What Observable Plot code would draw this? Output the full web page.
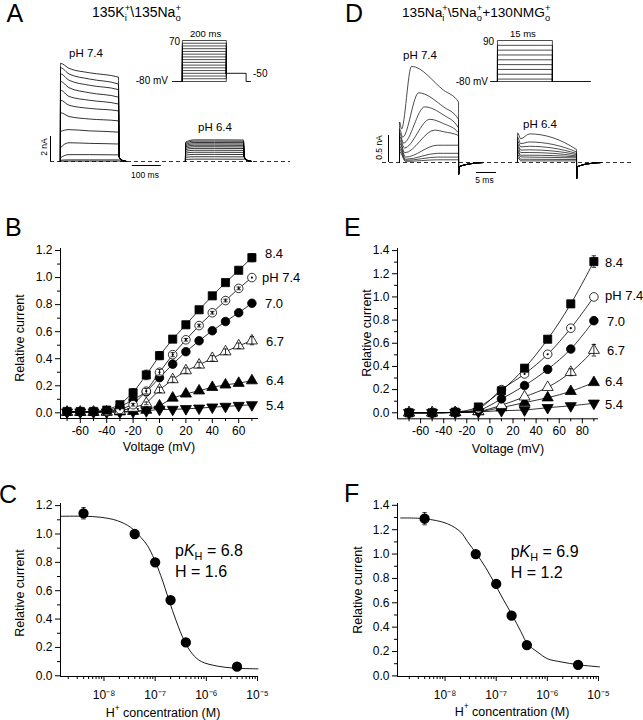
<!DOCTYPE html>
<html><head><meta charset="utf-8">
<script src="https://cdn.jsdelivr.net/npm/d3@7"></script>
<script src="https://cdn.jsdelivr.net/npm/@observablehq/plot@0.6"></script>
<style>
body{margin:0;background:#fff;}
#fig{position:relative;width:643px;height:720px;overflow:hidden;background:#fff;}
</style></head><body><div id="fig"></div><script>
// ================= DATA =================
// Panel A: current traces (nA) sampled at aTimes (ms after step onset)
const aTimes = [0.6, 30, 100, 200];
const aPH74 = [
  [7.85, 7.45, 7.10, 6.75],
  [7.50, 7.00, 6.60, 6.20],
  [7.00, 6.50, 6.10, 5.75],
  [6.40, 5.90, 5.50, 5.15],
  [5.70, 5.20, 4.90, 4.60],
  [4.90, 4.50, 4.25, 4.05],
  [3.90, 3.60, 3.40, 3.25],
  [2.40, 2.55, 2.45, 2.35],
  [1.10, 1.50, 1.45, 1.40],
  [0.30, 0.55, 0.55, 0.53],
  [0.10, 0.13, 0.13, 0.13],
  [0.02, 0.03, 0.03, 0.03]
];
const aPH64 = [
  [1.55, 1.73, 1.73, 1.72],
  [1.47, 1.63, 1.63, 1.62],
  [1.37, 1.52, 1.52, 1.51],
  [1.27, 1.41, 1.41, 1.40],
  [1.17, 1.30, 1.30, 1.29],
  [1.06, 1.18, 1.18, 1.17],
  [0.95, 1.05, 1.05, 1.04],
  [0.81, 0.90, 0.90, 0.89],
  [0.67, 0.74, 0.74, 0.73],
  [0.51, 0.57, 0.57, 0.56],
  [0.34, 0.38, 0.38, 0.37],
  [0.17, 0.19, 0.19, 0.18]
];
const aSweep64Start = 431;          // ms, on the concatenated time axis
const aTailTimes = [203, 212, 228];
const aTailCurrent = [0.35, 0.10, 0];
const aScaleNA = 2, aScaleMS = 100;
// Panel A protocol
const aSteps = [-80,-70,-60,-50,-40,-30,-20,-10,0,10,20,30,40,50,60,70];
const aHold = -80, aTailV = -50;
const aProtoTimes = [-45, 0, 200, 290, 310];

// Panel D: traces (nA)
const dPH74Spike = [0.75, 0.62, 0.55, 0.48, 0.42, 0.36, 0.30, 0.25, 0.20];
const dPH74DipT  = [0.5, 0.8, 1.0, 1.2, 1.3, 1.5, 1.5, 1.5, 1.5];
const dPH74Dip   = [0.62, 0.47, 0.36, 0.27, 0.18, 0.10, 0.06, 0.04, 0.02];
const dPH74PeakT = [3.0, 4.8, 6.3, 7.6, 8.8, 9.5, 9.5, 9.5, 9.5];
const dPH74Peak  = [1.78, 1.29, 1.03, 0.80, 0.60, 0.32, 0.17, 0.10, 0.05];
const dPH74Mid   = [1.34, 1.03, 0.88, 0.72, 0.57, 0.32, 0.17, 0.10, 0.05];
const dPH74End   = [1.12, 0.80, 0.64, 0.55, 0.50, 0.32, 0.17, 0.10, 0.05];
const dMidT = 11, dOffT = 14.75;
const dTailT = [14.78, 14.9, 16, 18, 21];
const dTail74I = [-0.22, -0.08, -0.05, -0.02, 0];
const dSweep64Start = 29.5;
const dPH64Spike = [0.55, 0.47, 0.40, 0.34, 0.29, 0.24, 0.20, 0.15, 0.10];
const dPH64Dip   = [0.44, 0.35, 0.29, 0.23, 0.185, 0.135, 0.104, 0.06, 0.03];
const dPH64Peak  = [0.53, 0.38, 0.30, 0.235, 0.185, 0.135, 0.10, 0.06, 0.03];
const dPH64End   = [0.24, 0.196, 0.167, 0.148, 0.122, 0.104, 0.085, 0.055, 0.03];
const dPH64DipT = 0.8, dPH64PeakT = 3;
const dTail64I = [-0.30, -0.09, -0.05, -0.02, 0];
const dScaleNA = 0.5, dScaleMS = 5;
const dSteps = [-80,-70,-50,-30,-10,10,30,50,70,90];
const dHold = -80;
const dProtoTimes = [-1.9, 0, 15, 25.4];

// Panel B: relative current vs voltage
const bV = [-70,-60,-50,-40,-30,-20,-10,0,10,20,30,40,50,60,70];
const bPH84 = [0.01,0.01,0.01,0.02,0.06,0.148,0.28,0.423,0.545,0.651,0.762,0.865,0.963,1.054,1.147];
const bPH74 = [0.008,0.008,0.008,0.01,0.025,0.06,0.16,0.30,0.43,0.54,0.645,0.74,0.83,0.92,1.0];
const bPH70 = [0.008,0.008,0.008,0.012,0.045,0.095,0.155,0.26,0.36,0.452,0.533,0.607,0.675,0.74,0.81];
const bPH67 = [0.005,0.005,0.005,0.008,0.015,0.035,0.07,0.17,0.246,0.312,0.354,0.403,0.452,0.496,0.533];
const bPH64 = [0.005,0.005,0.005,0.005,0.008,0.012,0.02,0.052,0.11,0.14,0.163,0.189,0.207,0.219,0.238];
const bPH54 = [0.005,0.005,0.005,0.005,0.005,0.008,0.015,0.025,0.025,0.03,0.034,0.042,0.047,0.054,0.059];
const bSEM84 = [0,0,0,0,0.01,0.03,0.035,0.03,0.02,0.015,0.015,0.015,0.015,0.02,0.03];
const bSEM74 = [0,0,0,0,0,0.01,0.02,0.02,0.015,0.01,0.01,0.01,0.01,0.01,0];
const bSEM67 = [0,0,0,0,0,0,0.01,0.02,0.02,0.02,0.02,0.02,0.02,0.02,0.03];
const bXTicks = [-60,-40,-20,0,20,40,60], bXMinor = [-70,-50,-30,-10,10,30,50,70];
const bYTicks = [0,0.2,0.4,0.6,0.8,1.0,1.2], bYMinor = [0.1,0.3,0.5,0.7,0.9,1.1];

// Panel E
const eV = [-70,-50,-30,-10,10,30,50,70,90];
const ePH84 = [0,0,0.005,0.05,0.19,0.385,0.635,0.94,1.305];
const ePH74 = [0,0,0.005,0.035,0.2,0.335,0.505,0.73,1.0];
const ePH70 = [0,0,0.005,0.02,0.12,0.235,0.375,0.55,0.795];
const ePH67 = [0,0,0.003,0.012,0.065,0.138,0.22,0.35,0.54];
const ePH64 = [0,0,0.003,0.01,0.045,0.088,0.13,0.185,0.262];
const ePH54 = [0,0,0.002,0.008,0.018,0.024,0.044,0.06,0.082];
const eSEM84 = [0,0,0,0,0,0,0,0,0.05];
const eSEM67 = [0,0,0,0,0,0,0,0.03,0.05];
const eXTicks = [-60,-40,-20,0,20,40,60,80], eXMinor = [-70,-50,-30,-10,10,30,50,70,90];
const eYTicks = [0,0.2,0.4,0.6,0.8,1.0,1.2,1.4], eYMinor = [0.1,0.3,0.5,0.7,0.9,1.1,1.3];

// Panels C and F: dose–response
const hConc = [3.98e-9, 3.98e-8, 1e-7, 2e-7, 3.98e-7, 3.98e-6];
const cI = [1.146, 1.0, 0.80, 0.534, 0.235, 0.064];
const cSEM = [0.04, 0, 0, 0, 0, 0];
const cFitLogH = [-8.85,-8.39,-8.065,-7.74,-7.48,-7.28,-7.15,-7.02,-6.89,-6.73,-6.59,-6.43,-6.27,-6.10,-5.78,-5.45,-4.99];
const cFitI    = [1.125,1.125,1.118,1.094,1.047,0.976,0.918,0.824,0.706,0.534,0.388,0.247,0.153,0.101,0.068,0.054,0.049];
const fI = [1.29, 1.0, 0.755, 0.494, 0.253, 0.091];
const fSEM = [0.05, 0, 0, 0.03, 0, 0];
const fFitLogH = [-8.87,-8.40,-7.954,-7.693,-7.562,-7.386,-7.203,-7.026,-6.856,-6.68,-6.516,-6.386,-6.19,-5.993,-5.732,-5.386,-4.98];
const fFitI    = [1.296,1.29,1.249,1.18,1.103,1.002,0.887,0.755,0.623,0.494,0.362,0.261,0.195,0.14,0.115,0.091,0.074];
const cYTicks = [0,0.2,0.4,0.6,0.8,1.0,1.2], cYMinor = [0.1,0.3,0.5,0.7,0.9,1.1];
const fYTicks = [0,0.2,0.4,0.6,0.8,1.0,1.2,1.4], fYMinor = [0.1,0.3,0.5,0.7,0.9,1.1,1.3];
const hXTicks = [1e-8, 1e-7, 1e-6, 1e-5];
const hXLabels = ["10\u207B\u2078", "10\u207B\u2077", "10\u207B\u2076", "10\u207B\u2075"];
const hMinorMant = [2,3,4,5,6,7,8,9], hMinorDec = [1e-9,1e-8,1e-7,1e-6];

const seriesNames = ["8.4","7.4","7.0","6.7","6.4","5.4"];
const seriesLabels = ["8.4","pH 7.4","7.0","6.7","6.4","5.4"];

// ================= DRAWING =================
const FONT = "'Liberation Sans', Arial, Helvetica, sans-serif";
const plotStyle = {fontFamily: FONT, fontSize: "12px", color: "black", background: "transparent", overflow: "visible"};
const fig = document.getElementById("fig");
function place(node, left, top) {
  node.style.position = "absolute"; node.style.left = left + "px"; node.style.top = top + "px";
  node.style.maxWidth = "none"; node.style.background = "transparent"; node.style.overflow = "visible";
  fig.appendChild(node);
}
const sqrt3 = Math.sqrt(3);
const triangleDown = {draw(ctx, size) { const y = -Math.sqrt(size / (sqrt3 * 3)); ctx.moveTo(0, -y * 2); ctx.lineTo(-sqrt3 * y, y); ctx.lineTo(sqrt3 * y, y); ctx.closePath(); }};
const capSym = {draw(ctx, size) { const w = Math.sqrt(size / Math.PI); ctx.moveTo(-w, 0); ctx.lineTo(w, 0); }};
const markerStyle = {
  "8.4": {symbol: "square", fill: "black", r: 4.6},
  "7.4": {symbol: "circle", fill: "white", r: 4.3},
  "7.0": {symbol: "circle", fill: "black", r: 4.3},
  "6.7": {symbol: "triangle", fill: "white", r: 4.1},
  "6.4": {symbol: "triangle", fill: "black", r: 4.1},
  "5.4": {symbol: triangleDown, fill: "black", r: 4.1}
};
function axesMarks(xd, yd, xT, xM, yT, yM, xFmt, xPad) {
  return [
    Plot.ruleX([xd[0]], {y1: yd[0], y2: yd[1], strokeWidth: 1}),
    Plot.ruleY([yd[0]], {x1: xd[0], x2: xd[1], strokeWidth: 1}),
    Plot.axisY({ticks: yT, tickFormat: d3.format(".1f"), tickSize: 5, tickPadding: 3, label: null}),
    Plot.axisY({ticks: yM, tickSize: 3, tickFormat: () => "", label: null}),
    Plot.axisX({ticks: xT, tickFormat: xFmt, tickSize: 5, tickPadding: xPad, label: null}),
    Plot.axisX({ticks: xM, tickSize: 3, tickFormat: () => "", label: null})
  ];
}

// ---- Panel A traces ----
const aRows = [];
function addSweep(set, offset, tag) {
  set.forEach((vals, k) => {
    const id = tag + k;
    aRows.push({id, t: offset, I: 0});
    aTimes.forEach((t, j) => aRows.push({id, t: offset + t, I: vals[j]}));
    const end = vals[vals.length - 1];
    aTailTimes.forEach((t, j) => aRows.push({id, t: offset + t, I: Math.min(end, aTailCurrent[j])}));
  });
}
addSweep(aPH74, 0, "a74-"); addSweep(aPH64, aSweep64Start, "a64-");
const aBarT = -34, aBarY = -0.32, aBarT0 = 248;
place(Plot.plot({
  width: 320, height: 180, marginLeft: 50, marginRight: 30, marginTop: 61, marginBottom: 6.5,
  style: plotStyle,
  x: {domain: [-34, 793], axis: null}, y: {domain: [-1, 8], axis: null},
  marks: [
    Plot.ruleY([0], {x1: -34, x2: 793, strokeDasharray: "4,3", strokeWidth: 0.8}),
    Plot.line(aRows, {x: "t", y: "I", z: "id", curve: "monotone-x", stroke: "black", strokeWidth: 0.8}),
    Plot.ruleX([aBarT], {y1: 0, y2: aScaleNA, strokeWidth: 1}),
    Plot.ruleY([aBarY], {x1: aBarT0, x2: aBarT0 + aScaleMS, strokeWidth: 1})
  ]
}), 0, 0);

// ---- Panel A protocol ----
const [aT0, aT1, aT2, aT3, aT4] = aProtoTimes;
const aProtoRows = aSteps.flatMap(v =>
  [[aT1,aHold],[aT1,v],[aT2,v],[aT2,aTailV]].map(([t, V]) => ({v, t, V})));
const aProtoCommon = [[aT0,aHold],[aT1,aHold],[aT2,aTailV],[aT3,aTailV],[aT3,aHold],[aT4,aHold]]
  .map(([t, V], i) => ({seg: i < 2 ? 0 : 1, t, V}));
place(Plot.plot({
  width: 100, height: 60, marginLeft: 12, marginRight: 10, marginTop: 10, marginBottom: 9,
  style: plotStyle,
  x: {domain: [-45, 310], axis: null}, y: {domain: [-80, 70], axis: null},
  marks: [
    Plot.line(aProtoRows, {x: "t", y: "V", z: "v", stroke: "black", strokeWidth: 0.7}),
    Plot.line(aProtoCommon, {x: "t", y: "V", z: "seg", stroke: "black", strokeWidth: 0.9})
  ]
}), 160, 30);

// ---- Panel D traces ----
const dRows = [];
dPH74Peak.forEach((pk, k) => {
  const id = "d74-" + k;
  const pts = [[0,0],[0.02,dPH74Spike[k]],[dPH74DipT[k],dPH74Dip[k]],[dPH74PeakT[k],pk],[dMidT,dPH74Mid[k]],[dOffT,dPH74End[k]]];
  dTailT.forEach((t, j) => pts.push([t, dTail74I[j]]));
  pts.forEach(([t, I]) => dRows.push({id, t, I}));
});
dPH64Peak.forEach((pk, k) => {
  const id = "d64-" + k;
  const pts = [[0,0],[0.02,dPH64Spike[k]],[dPH64DipT,dPH64Dip[k]],[dPH64PeakT,pk],[dOffT,dPH64End[k]]];
  dTailT.forEach((t, j) => pts.push([t, dTail64I[j]]));
  pts.forEach(([t, I]) => dRows.push({id, t: dSweep64Start + t, I}));
});
const dBarT = -2.75, dBarY = -0.185, dBarT0 = 19.25;
place(Plot.plot({
  width: 323, height: 190, marginLeft: 62, marginRight: 11, marginTop: 59.4, marginBottom: 6.4,
  style: plotStyle,
  x: {domain: [-4.25, 58.25], axis: null}, y: {domain: [-0.4, 1.9], axis: null},
  marks: [
    Plot.ruleY([0], {x1: -4.25, x2: 58.25, strokeDasharray: "4,3", strokeWidth: 0.8}),
    Plot.line(dRows, {x: "t", y: "I", z: "id", curve: "monotone-x", stroke: "black", strokeWidth: 0.7}),
    Plot.ruleX([dBarT], {y1: 0, y2: dScaleNA, strokeWidth: 1}),
    Plot.ruleY([dBarY], {x1: dBarT0, x2: dBarT0 + dScaleMS, strokeWidth: 1})
  ]
}), 320, 0);

// ---- Panel D protocol ----
const [dT0, dT1, dT2, dT3] = dProtoTimes;
const dProtoRows = dSteps.flatMap(v =>
  [[dT1,dHold],[dT1,v],[dT2,v],[dT2,dHold]].map(([t, V]) => ({v, t, V})));
const dProtoCommon = [[dT0,dHold],[dT1,dHold],[dT2,dHold],[dT3,dHold]].map(([t, V], i) => ({seg: i < 2 ? 0 : 1, t, V}));
place(Plot.plot({
  width: 120, height: 60, marginLeft: 10, marginRight: 10, marginTop: 10, marginBottom: 9,
  style: plotStyle,
  x: {domain: [-1.9, 25.4], axis: null}, y: {domain: [-80, 90], axis: null},
  marks: [
    Plot.line(dProtoRows, {x: "t", y: "V", z: "v", stroke: "black", strokeWidth: 0.7}),
    Plot.line(dProtoCommon, {x: "t", y: "V", z: "seg", stroke: "black", strokeWidth: 0.9})
  ]
}), 480, 30);

// ---- I–V panels (B, E) ----
function ivPlot(volts, seriesVals, sems, opts) {
  const rows = [];
  seriesNames.forEach((name, s) => volts.forEach((v, i) => rows.push({pH: name, v, I: seriesVals[s][i], sem: sems[s] ? sems[s][i] : 0})));
  const errs = rows.filter(d => d.sem > 0);
  const marks = [
    ...axesMarks(opts.xd, opts.yd, opts.xT, opts.xM, opts.yT, opts.yM, d => String(d), 3),
    Plot.line(rows, {x: "v", y: "I", z: "pH", curve: opts.curve, stroke: "black", strokeWidth: 0.8})
  ];
  [...seriesNames].reverse().forEach(name => {
    const m = markerStyle[name];
    marks.push(Plot.dot(rows.filter(d => d.pH === name), {x: "v", y: "I", symbol: m.symbol, r: m.r, fill: m.fill, stroke: "black", strokeWidth: 0.8}));
  });
  marks.push(Plot.dot(rows.filter(d => d.pH === "7.4" && opts.centreDot(d)), {x: "v", y: "I", r: 1.1, fill: "black", stroke: "none"}));
  marks.push(Plot.ruleX(errs, {x: "v", y1: d => d.I - d.sem, y2: d => d.I + d.sem, strokeWidth: 0.8}));
  marks.push(Plot.dot(errs, {x: "v", y: d => d.I + d.sem, symbol: capSym, r: 2.2, stroke: "black", fill: "none", strokeWidth: 0.8}));
  marks.push(Plot.dot(errs, {x: "v", y: d => d.I - d.sem, symbol: capSym, r: 2.2, stroke: "black", fill: "none", strokeWidth: 0.8}));
  return Plot.plot({
    width: opts.w, height: 215, marginLeft: opts.ml, marginRight: opts.mr, marginTop: 8, marginBottom: opts.mb,
    style: plotStyle,
    x: {domain: opts.xd, label: null}, y: {domain: opts.yd, label: null},
    marks
  });
}
place(ivPlot(bV, [bPH84, bPH74, bPH70, bPH67, bPH64, bPH54], [bSEM84, bSEM74, null, bSEM67, null, null],
  {w: 320, ml: 60, mr: 62, mb: 37, xd: [-75, 75], yd: [-0.042, 1.215], xT: bXTicks, xM: bXMinor, yT: bYTicks, yM: bYMinor, curve: "linear", centreDot: () => true}), 0, 240);
place(ivPlot(eV, [ePH84, ePH74, ePH70, ePH67, ePH64, ePH54], [eSEM84, null, null, eSEM67, null, null],
  {w: 323, ml: 77, mr: 45, mb: 36.7, xd: [-80, 94], yd: [-0.052, 1.418], xT: eXTicks, xM: eXMinor, yT: eYTicks, yM: eYMinor, curve: "catmull-rom", centreDot: d => d.v < 90}), 320, 240);

// ---- Dose–response panels (C, F) ----
const hMinor = hMinorMant.flatMap(k => hMinorDec.map(p => k * p));
function drPlot(vals, sems, fitLog, fitI, opts) {
  const pts = hConc.map((h, i) => ({h, I: vals[i], sem: sems[i]}));
  const errs = pts.filter(d => d.sem > 0);
  const fit = fitLog.map((l, i) => ({h: 10 ** l, I: fitI[i]}));
  const xd = [10 ** opts.x0, 1e-5];
  return Plot.plot({
    width: opts.w, height: 210, marginLeft: opts.ml, marginRight: opts.mr, marginTop: 8, marginBottom: 29,
    style: plotStyle,
    x: {type: "log", domain: xd, label: null}, y: {domain: opts.yd, label: null},
    marks: [
      ...axesMarks(xd, opts.yd, hXTicks, hMinor.filter(v => v > xd[0]), opts.yT, opts.yM, d => hXLabels[hXTicks.indexOf(d)], 9),
      Plot.line(fit, {x: "h", y: "I", curve: "catmull-rom", stroke: "black", strokeWidth: 0.9}),
      Plot.ruleX(errs, {x: "h", y1: d => d.I - d.sem, y2: d => d.I + d.sem, strokeWidth: 0.8}),
      Plot.dot(errs, {x: "h", y: d => d.I + d.sem, symbol: capSym, r: 2.2, stroke: "black", fill: "none", strokeWidth: 0.8}),
      Plot.dot(errs, {x: "h", y: d => d.I - d.sem, symbol: capSym, r: 2.2, stroke: "black", fill: "none", strokeWidth: 0.8}),
      Plot.dot(pts, {x: "h", y: "I", r: 4.4, fill: "black", stroke: "black"})
    ]
  });
}
place(drPlot(cI, cSEM, cFitLogH, cFitI, {w: 320, ml: 60, mr: 63, x0: -8.85, yd: [-0.005, 1.215], yT: cYTicks, yM: cYMinor}), 0, 495);
place(drPlot(fI, fSEM, fFitLogH, fFitI, {w: 323, ml: 77, mr: 45, x0: -8.93, yd: [-0.005, 1.415], yT: fYTicks, yM: fYMinor}), 320, 495);

// ================= TEXT =================
const ov = d3.select(fig).append("svg").attr("width", 643).attr("height", 720)
  .style("position", "absolute").style("left", "0px").style("top", "0px")
  .attr("font-family", FONT).attr("fill", "black");
function T(x, y, s, size, o = {}) {
  const t = ov.append("text").attr("x", x).attr("y", y).attr("font-size", size).text(s);
  if (o.anchor) t.attr("text-anchor", o.anchor);
  if (o.mid) t.attr("dominant-baseline", "central");
  if (o.rot) t.attr("transform", `rotate(${o.rot},${x},${y})`);
  return t;
}
function rich(x, y, size, segs, o = {}) {
  const t = ov.append("text").attr("x", x).attr("y", y).attr("font-size", size);
  if (o.anchor) t.attr("text-anchor", o.anchor);
  if (o.mid) t.attr("dominant-baseline", "central");
  if (o.rot) t.attr("transform", `rotate(${o.rot},${x},${y})`);
  const small = size * 0.68;
  let cur = 0, pend = 0;
  for (const s of segs) {
    if (s.sup !== undefined && s.sub !== undefined) {
      const a = t.append("tspan").attr("font-size", small).attr("dy", -0.42 * size - cur).text(s.sup);
      if (pend) a.attr("dx", pend);
      cur = -0.42 * size;
      const wSup = a.node().getComputedTextLength();
      const b = t.append("tspan").attr("font-size", small).attr("dx", -wSup).attr("dy", 0.3 * size - cur).text(s.sub);
      cur = 0.3 * size;
      const wSub = b.node().getComputedTextLength();
      pend = Math.max(0, wSup - wSub);
    } else {
      const off = s.sup !== undefined ? -0.42 * size : s.sub !== undefined ? 0.28 * size : 0;
      const a = t.append("tspan").attr("dy", off - cur).text(s.sup ?? s.sub ?? s.t);
      if (off !== 0) a.attr("font-size", small);
      if (s.italic) a.attr("font-style", "italic");
      if (pend) a.attr("dx", pend);
      pend = 0; cur = off;
    }
  }
  return t;
}
// panel letters
T(6.5, 22, "A", 25); T(345, 22, "D", 25); T(5, 236, "B", 25); T(344, 236, "E", 25); T(-1, 503, "C", 25); T(344, 502, "F", 25);
// titles
rich(92, 17, 14, [{t: "135K"}, {sup: "+", sub: "i"}, {t: "\\135Na"}, {sup: "+", sub: "o"}]);
rich(402, 17, 13.7, [{t: "135Na"}, {sup: "+", sub: "i"}, {t: "\\5Na"}, {sup: "+", sub: "o"}, {t: "+130NMG"}, {sup: "+", sub: "o"}]);
// trace labels
T(69, 57, "pH 7.4", 11.5); T(198, 131, "pH 6.4", 11.5);
T(403, 59, "pH 7.4", 11.5); T(523, 128, "pH 6.4", 11.5);
// protocol labels
T(180, 41.5, "70", 10, {anchor: "end", mid: true}); T(190, 37, "200 ms", 9.5);
T(168, 80, "-80 mV", 10, {anchor: "end", mid: true}); T(253, 73.5, "-50", 10, {mid: true});
T(494, 41.5, "90", 10, {anchor: "end", mid: true}); T(510, 37, "15 ms", 9.5);
T(488, 81.5, "-80 mV", 10, {anchor: "end", mid: true});
// scale bar labels
T(43.5, 147, "2 nA", 8.5, {anchor: "middle", mid: true, rot: -90});
T(145, 175, "100 ms", 8.5, {anchor: "middle", mid: true});
T(378.5, 147.5, "0.5 nA", 8.5, {anchor: "middle", mid: true, rot: -90});
T(484.5, 180, "5 ms", 8.5, {anchor: "middle", mid: true});
// series labels
const bLabY = [253.3, 277.3, 303.3, 341.7, 380, 405.7], bLabX = [265, 262, 265, 266, 266, 266];
const eLabY = [262.3, 295, 321.7, 350, 381.7, 404.3], eLabX = [605, 605, 607, 607, 605, 605];
seriesLabels.forEach((s, i) => { T(bLabX[i], bLabY[i], s, 13, {mid: true}); T(eLabX[i], eLabY[i], s, 13, {mid: true}); });
// axis titles
T(20, 338, "Relative current", 12.5, {anchor: "middle", mid: true, rot: -90});
T(366.7, 333, "Relative current", 12.5, {anchor: "middle", mid: true, rot: -90});
T(20, 593, "Relative current", 12.5, {anchor: "middle", mid: true, rot: -90});
T(358, 590, "Relative current", 12.5, {anchor: "middle", mid: true, rot: -90});
T(159, 447, "Voltage (mV)", 12.5, {anchor: "middle", mid: true});
T(508, 449, "Voltage (mV)", 12.5, {anchor: "middle", mid: true});
rich(163, 713, 12.5, [{t: "H"}, {sup: "+"}, {t: " concentration (M)"}], {anchor: "middle", mid: true});
rich(512, 711.7, 12.5, [{t: "H"}, {sup: "+"}, {t: " concentration (M)"}], {anchor: "middle", mid: true});
// fit parameters
rich(175, 555.7, 16, [{t: "p"}, {t: "K", italic: true}, {sub: "H"}, {t: " = 6.8"}]);
T(175, 576.7, "H = 1.6", 16);
rich(510.7, 556.7, 16, [{t: "p"}, {t: "K", italic: true}, {sub: "H"}, {t: " = 6.9"}]);
T(510.7, 577.7, "H = 1.2", 16);
</script></body></html>
